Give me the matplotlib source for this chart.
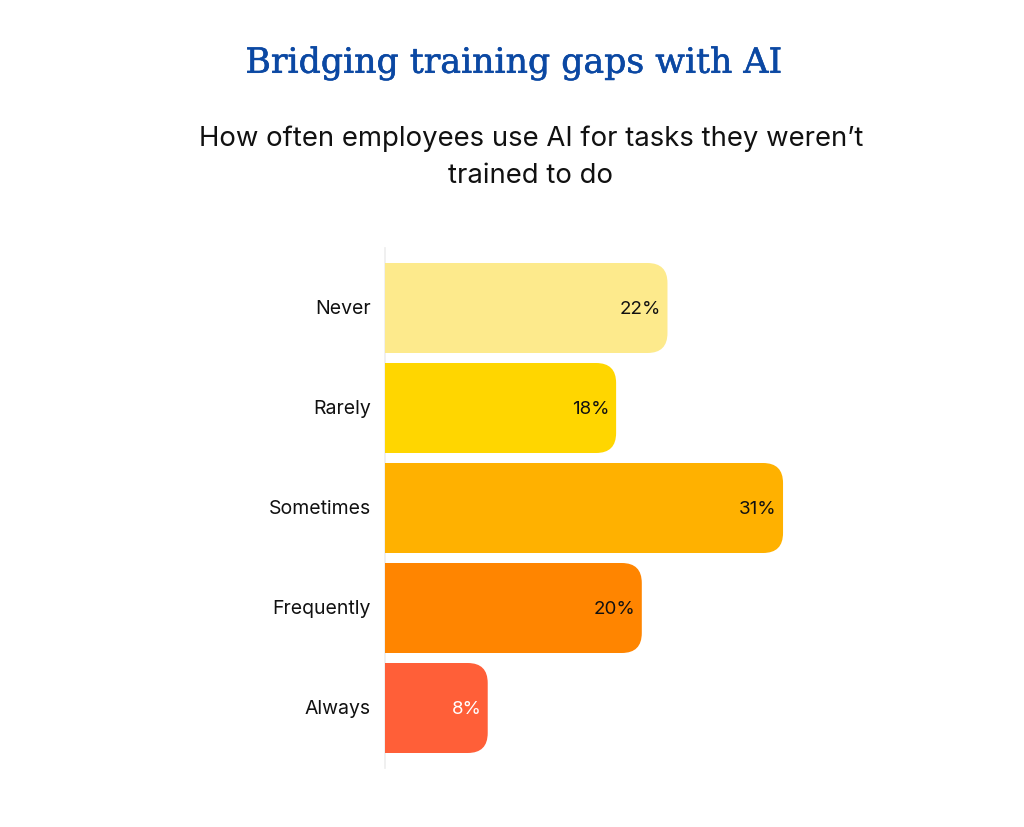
import matplotlib.pyplot as plt
import matplotlib.patheffects as pe
from matplotlib.patches import FancyBboxPatch

categories = ['Never', 'Rarely', 'Sometimes', 'Frequently', 'Always']
values = [22, 18, 31, 20, 8]
colors = ['#FDEA8C', '#FFD600', '#FFB100', '#FF8500', '#FF5F38']
label_colors = ['#111111', '#111111', '#111111', '#111111', '#FFFFFF']

title = 'Bridging training gaps with AI'
subtitle = 'How often employees use AI for tasks they weren\u2019t\ntrained to do'

W, H = 1024, 828
fig = plt.figure(figsize=(W / 100, H / 100), dpi=100)
fig.patch.set_facecolor('white')

# pixel scale of the bars
px_per_x = 12.84
px_per_y = 100.0
xmax = 48
left_px, top_px, bot_px = 385, 249, 769

ax = fig.add_axes([left_px / W, 1 - bot_px / H,
                   xmax * px_per_x / W, (bot_px - top_px) / H])
ax.set_xlim(0, xmax)
ax.set_ylim(4.6, -0.6)
ax.axis('off')

bar_h = 0.9
aspect = px_per_x / px_per_y
r = 20 / px_per_x  # corner radius in x units

for i, (cat, v, c, lc) in enumerate(zip(categories, values, colors, label_colors)):
    y0 = i - bar_h / 2
    ax.add_patch(FancyBboxPatch((0, y0), v, bar_h,
                                boxstyle=f'round,pad=0,rounding_size={r}',
                                mutation_aspect=aspect, fc=c, ec='none'))
    # square off the left corners
    ax.add_patch(plt.Rectangle((0, y0), r * 1.5, bar_h, fc=c, ec='none'))
    ax.text(v - 0.5, i, f'{v}%', ha='right', va='center', fontsize=13.5,
            color=lc, family='Inter')
    ax.text(-1.1, i, cat, ha='right', va='center', fontsize=14,
            color='#111111', family='Inter', clip_on=False)

# faint baseline
ax.plot([0, 0], [-0.6, 4.6], color='#EDEDED', lw=1.2, zorder=0, clip_on=False)

fig.text(514 / W, 1 - 64 / H, title, ha='center', va='center',
         fontsize=25, color='#0B48A3', family='DejaVu Serif',
         path_effects=[pe.withStroke(linewidth=0.4, foreground='#0B48A3')])
fig.text(531 / W, 1 - 157 / H, subtitle, ha='center', va='center',
         fontsize=19.8, color='#111111', family='Inter', linespacing=1.55)

fig.savefig('out.png', dpi=100, facecolor='white')
